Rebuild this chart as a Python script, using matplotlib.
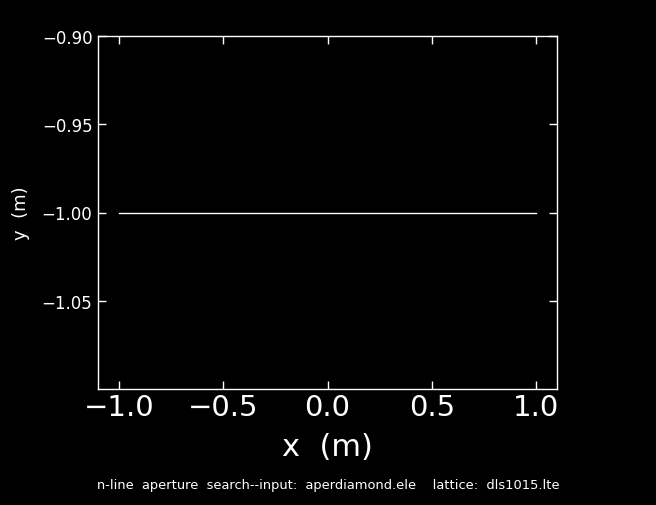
import matplotlib
matplotlib.use('Agg')
import matplotlib.pyplot as plt

# aperture search result: single line at y = -1
x = [-1.0, 1.0]
y = [-1.0, -1.0]

xticks = [-1.0, -0.5, 0.0, 0.5, 1.0]
yticks = [-0.90, -0.95, -1.00, -1.05]

plt.rcParams['font.family'] = ['DejaVu Sans']

fig = plt.figure(figsize=(6.56, 5.06), dpi=100, facecolor='black')
ax = fig.add_axes([98/656, 1 - 390/506, (557-98)/656, (390-37)/506])
ax.set_facecolor('black')

ax.plot(x, y, color='white', lw=1)

ax.set_xlim(-1.1, 1.1)
ax.set_ylim(-1.1, -0.9)
ax.set_xticks(xticks)
ax.set_xticklabels([('%.1f' % v).replace('-', '\u2212') for v in xticks])
ax.set_yticks(yticks)
ax.set_yticklabels([('%.2f' % v).replace('-', '\u2212') for v in yticks])

for s in ax.spines.values():
    s.set_color('white')
    s.set_linewidth(1)

ax.tick_params(axis='both', direction='in', colors='white', top=True, right=True,
               length=6, width=1)
ax.tick_params(axis='x', labelsize=21, pad=3)
ax.tick_params(axis='y', labelsize=12, pad=4)

ax.set_xlabel('x  (m)', color='white', fontsize=22, labelpad=8)
ax.set_ylabel('y  (m)', color='white', fontsize=13)
ax.yaxis.set_label_coords(-(98 - 30) / 459, 0.5)

fig.text(0.5, 1 - 486/506, 'n-line  aperture  search--input:  aperdiamond.ele    lattice:  dls1015.lte',
         color='white', fontsize=9.4, ha='center', va='center')

fig.savefig('out.png', dpi=100, facecolor='black')
